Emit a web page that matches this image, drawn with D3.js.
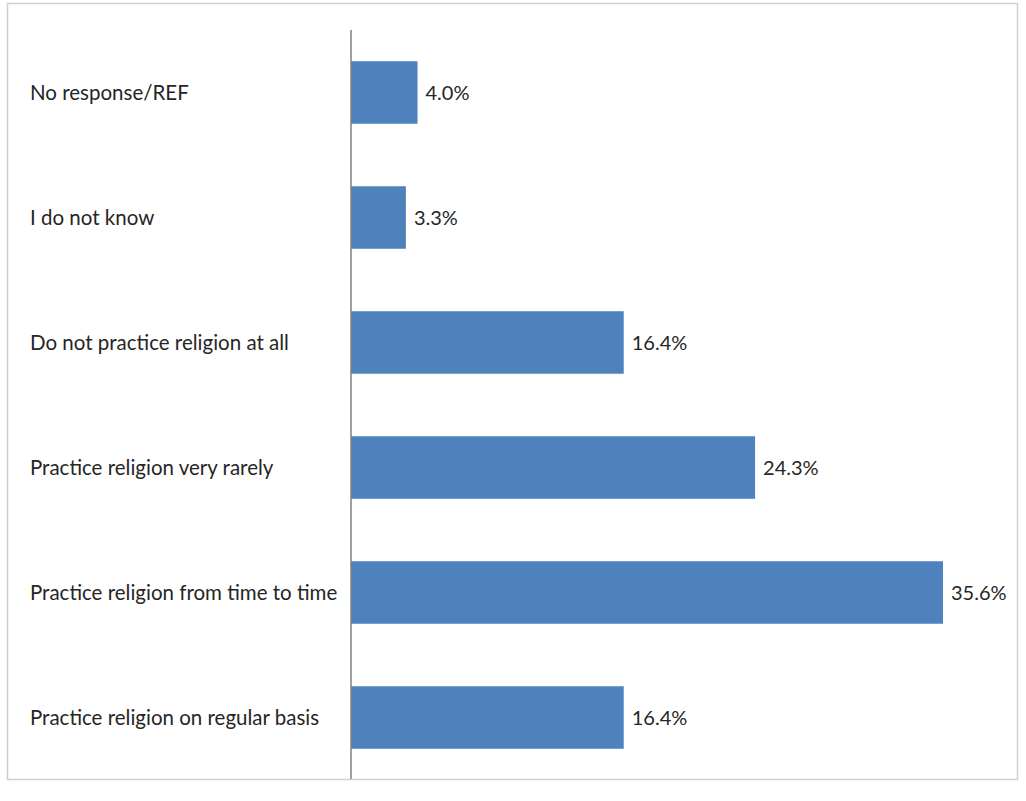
<!DOCTYPE html>
<html>
<head>
<meta charset="utf-8">
<script src="https://cdn.jsdelivr.net/npm/d3@7"></script>
<style>
  html, body { margin: 0; padding: 0; background: #fff; }
  svg { display: block; }
</style>
</head>
<body>
<svg id="chart"></svg>
<script>
// ── Data ──────────────────────────────────────────────────────────────────────
const categories = [
  'No response/REF',
  'I do not know',
  'Do not practice religion at all',
  'Practice religion very rarely',
  'Practice religion from time to time',
  'Practice religion on regular basis'
];
const values = [4.0, 3.3, 16.4, 24.3, 35.6, 16.4];

const W = 1026, H = 801;
const svg = d3.select('#chart').attr('width', W).attr('height', H);

// chart frame
svg.append('rect')
  .attr('x', 7.5).attr('y', 3.5)
  .attr('width', 1010).attr('height', 776)
  .attr('fill', '#fff').attr('stroke', '#d0d0d0').attr('stroke-width', 1.5);

// ── Scales ────────────────────────────────────────────────────────────────────
const x = d3.scaleLinear().domain([0, 35.6]).range([351, 943]);
const y = d3.scaleBand().domain(categories).range([30, 780])
  .paddingInner(0.5).paddingOuter(0.25);

const font = 'Lato, "Open Sans", sans-serif';

// bars
svg.append('g').selectAll('rect')
  .data(categories)
  .join('rect')
    .attr('x', x(0))
    .attr('y', d => y(d))
    .attr('width', (d, i) => x(values[i]) - x(0))
    .attr('height', y.bandwidth())
    .attr('fill', '#4f81bd');

// value labels
svg.append('g').selectAll('text')
  .data(categories)
  .join('text')
    .attr('x', (d, i) => x(values[i]) + 8)
    .attr('y', d => y(d) + y.bandwidth() / 2)
    .attr('dy', '0.35em')
    .attr('font-family', font)
    .attr('font-size', 20)
    .attr('fill', '#262626')
    .text((d, i) => values[i].toFixed(1) + '%');

// category labels
svg.append('g').selectAll('text')
  .data(categories)
  .join('text')
    .attr('x', 30)
    .attr('y', d => y(d) + y.bandwidth() / 2)
    .attr('dy', '0.35em')
    .attr('font-family', font)
    .attr('font-size', 20.5)
    .attr('fill', '#262626')
    .text(d => d);

// vertical axis line
svg.append('line')
  .attr('x1', x(0)).attr('x2', x(0))
  .attr('y1', 30).attr('y2', 779)
  .attr('stroke', '#808080').attr('stroke-width', 1.5);
</script>
</body>
</html>
